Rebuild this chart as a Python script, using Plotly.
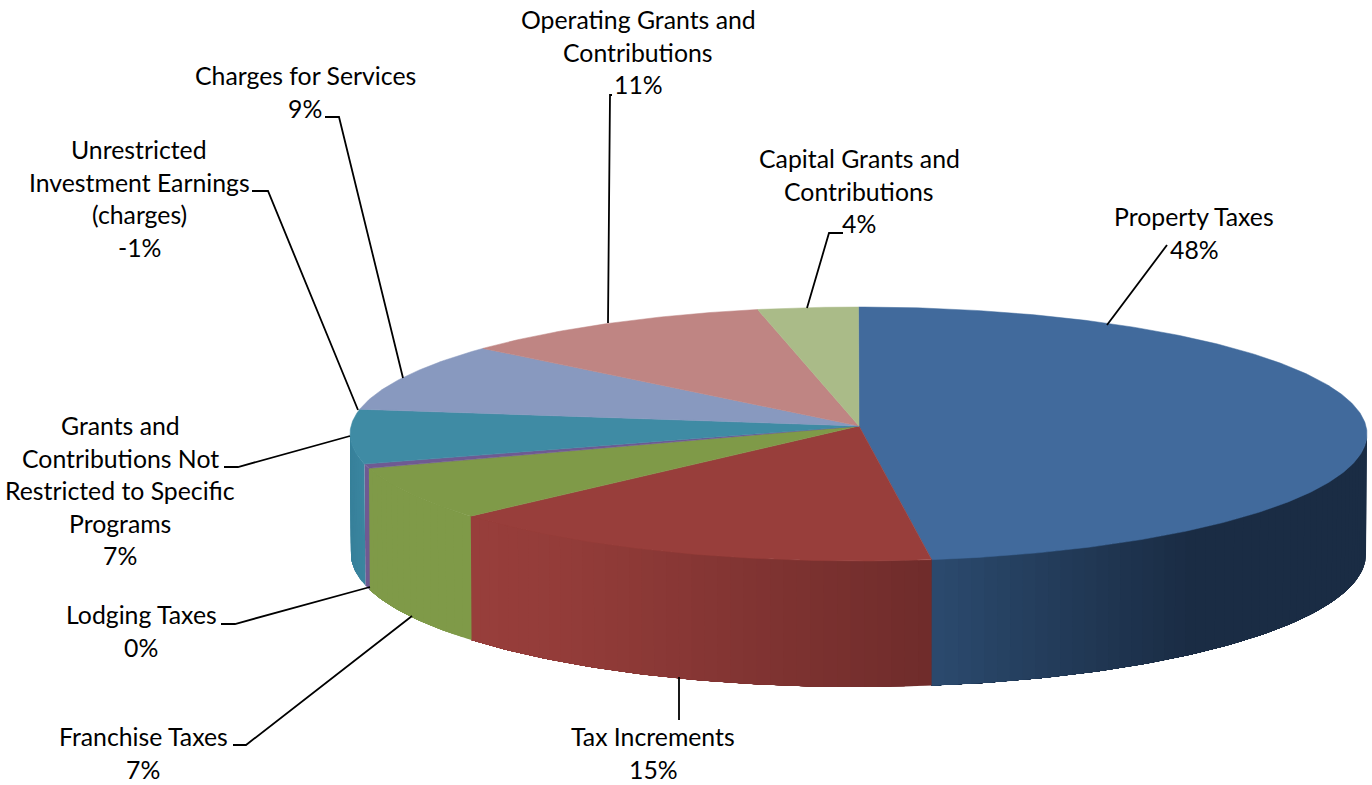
import numpy as np
import plotly.graph_objects as go

# ---------- data ----------
categories = ["Property Taxes", "Tax Increments", "Franchise Taxes", "Lodging Taxes",
              "Grants and Contributions Not Restricted to Specific Programs",
              "Unrestricted Investment Earnings (charges)", "Charges for Services",
              "Operating Grants and Contributions", "Capital Grants and Contributions"]
# drawn share of the circle (%)
shares = [47.7, 16.1, 6.85, 0.55, 6.92, 0.0, 8.65, 10.05, 3.18]
# printed labels
percent_labels = ["48%", "15%", "7%", "0%", "7%", "-1%", "9%", "11%", "4%"]

# ---------- styling / layout ----------
W, H = 1372, 785
top_colors = ["#416a9c", "#983e3b", "#7f9a48", "#6f5a92", "#3f8ba4", "#d98a3e", "#8899bf", "#bf8583", "#aabb88"]
wall_stops = [
    [(932, "#2b4a6e"), (1190, "#1a2c44"), (1367, "#1a2c44")],
    [(471, "#983e3b"), (570, "#933c39"), (932, "#6f2c2b")],
    [(369, "#7f9a48"), (472, "#7f9a48")],
    [(365, "#6f5a92"), (369, "#6f5a92")],
    [(350, "#37809a"), (372, "#3c88a2")],
    [(350, "#d98a3e"), (372, "#d98a3e")],
    [(350, "#8899bf"), (372, "#8899bf")],
    [(350, "#bf8583"), (372, "#bf8583")],
    [(350, "#aabb88"), (372, "#aabb88")],
]
CX, CY = 858.5, 434.0     # rim ellipse centre
RX, RY = 508.5, 127.0     # rim ellipse radii
AX, AY = 859.0, 426.0     # apex of the wedges (perspective shift)
DEPTH = 120.0
FRONT_EXTRA = 6.0
FONT = "Lato"
FS = 24.8
LH = 32.6
TEXT_DY = -1.5

labels_layout = [  # centre x, first line centre y, wrapped name lines
    (1194, 218, ["Property Taxes"]),
    (653, 738, ["Tax Increments"]),
    (143, 738, ["Franchise Taxes"]),
    (141, 616, ["Lodging Taxes"]),
    (120, 427, ["Grants and", "Contributions Not", "Restricted to Specific", "Programs"]),
    (139, 151, ["Unrestricted", "Investment Earnings", "(charges)"]),
    (305, 77, ["Charges for Services"]),
    (638, 21, ["Operating Grants and", "Contributions"]),
    (859, 160, ["Capital Grants and", "Contributions"]),
]
leaders = [
    [(1107, 325), (1167, 245)],
    [(679, 677), (679, 720)],
    [(412, 616), (246, 745), (233, 745)],
    [(370, 587), (235, 624), (221, 624)],
    [(350, 436), (238, 467), (224, 467)],
    [(358, 410), (268, 191), (252, 191)],
    [(403, 378), (339, 117), (325, 117)],
    [(608, 323), (610, 95), (612, 95)],
    [(807, 308), (829, 233), (843, 233)],
]


def rim(phi):
    return CX + RX * np.sin(phi), CY - RY * np.cos(phi)


def rim_low(phi):
    d = DEPTH + FRONT_EXTRA * np.maximum(-np.cos(phi), 0)
    return CX + (RX - 1) * np.sin(phi), CY - RY * np.cos(phi) + d


def hex_rgb(h):
    return np.array([int(h[i:i + 2], 16) for i in (1, 3, 5)], float)


def grad(stops, x):
    xs = [s[0] for s in stops]
    cs = np.array([hex_rgb(s[1]) for s in stops])
    c = [np.interp(x, xs, cs[:, k]) for k in range(3)]
    return "rgb(%d,%d,%d)" % tuple(round(v) for v in c)


fig = go.Figure()
edges = np.radians(np.concatenate([[0], np.cumsum(shares)]) / sum(shares) * 360)

# side walls (only the part facing the viewer). Each wall is painted as a stack of
# shrinking polygons, so the shading varies without seams between neighbouring strips.
for i in range(len(shares)):
    a = max(edges[i], np.pi / 2)
    b = min(edges[i + 1], 3 * np.pi / 2)
    if b <= a:
        continue
    n = max(int(np.degrees(b - a) / 1.5), 1)
    t = np.linspace(a, b, n + 1)
    for j in range(n):
        ph = np.linspace(t[j], b, max(n - j + 1, 2) * 2)
        xu, yu = rim(ph)
        xl, yl = rim_low(ph)
        col = grad(wall_stops[i], float(rim(0.5 * (t[j] + t[j + 1]))[0]))
        fig.add_trace(go.Scatter(
            x=np.r_[xu, xl[::-1], xu[0]], y=np.r_[yu, yl[::-1], yu[0]],
            mode="lines", fill="toself", fillcolor=col,
            line=dict(width=0), hoverinfo="skip", showlegend=False))

# top faces
for i in range(len(shares)):
    if shares[i] <= 0:
        continue
    ph = np.linspace(edges[i], edges[i + 1], max(int(shares[i] * 6), 4))
    xr, yr = rim(ph)
    fig.add_trace(go.Scatter(
        x=np.r_[AX, xr, AX], y=np.r_[AY, yr, AY], mode="lines", fill="toself",
        fillcolor=top_colors[i], line=dict(color=top_colors[i], width=0.5),
        name=categories[i], hoverinfo="name", showlegend=False))

# leader lines
for pts in leaders:
    fig.add_trace(go.Scatter(x=[p[0] for p in pts], y=[p[1] for p in pts], mode="lines",
                             line=dict(color="#000000", width=1.8), hoverinfo="skip", showlegend=False))

# labels: every line placed separately to hold the reference line pitch
ann = []
for (lx, ly, lines), pct in zip(labels_layout, percent_labels):
    for k, txt in enumerate(lines + [pct]):
        ann.append(dict(x=lx, y=ly + k * LH + TEXT_DY, text=txt, showarrow=False, xanchor="center", yanchor="middle",
                        xref="x", yref="y", font=dict(family=FONT, size=FS, color="#000000")))

fig.update_layout(
    width=W, height=H, margin=dict(l=0, r=0, t=0, b=0),
    paper_bgcolor="#ffffff", plot_bgcolor="#ffffff", showlegend=False,
    xaxis=dict(range=[0, W], visible=False, fixedrange=True),
    yaxis=dict(range=[H, 0], visible=False, fixedrange=True),
    annotations=ann,
)
fig.write_html("out.html", config={"displayModeBar": False},
               post_script="document.body.style.margin='0';document.documentElement.style.overflow='hidden';")
